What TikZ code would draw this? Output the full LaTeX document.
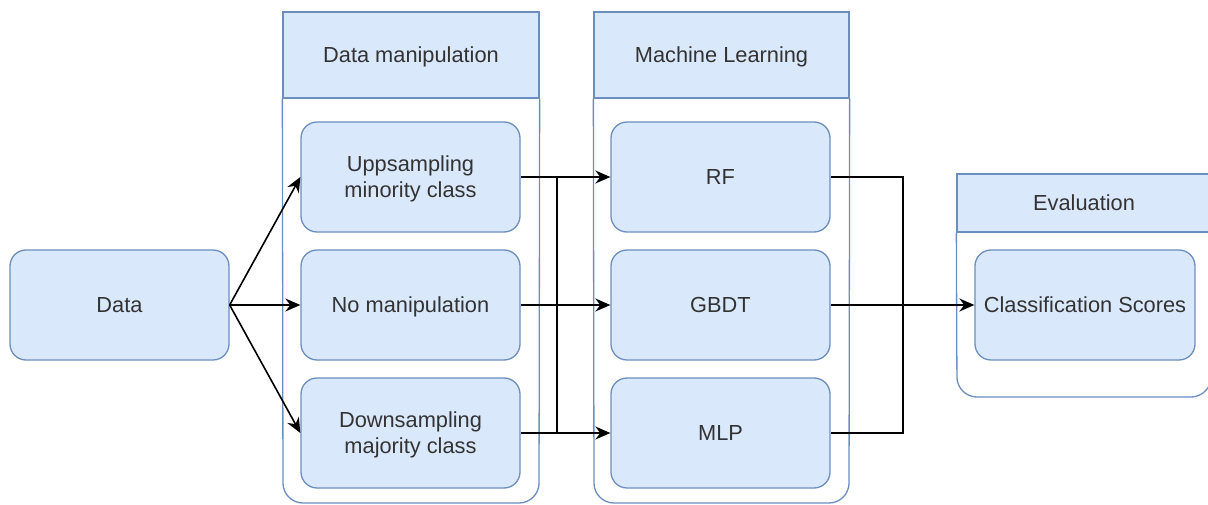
\documentclass[tikz,border=0pt]{standalone}
\usepackage{fontspec}
\setmainfont{Liberation Sans}
\usetikzlibrary{arrows.meta}

\definecolor{boxfill}{HTML}{DAE8FC}
\definecolor{laneblue}{HTML}{6C8EBF}

\tikzset{
  box/.style={draw=laneblue, fill=boxfill, rounded corners=16pt, line width=1.3pt,
    minimum width=219pt, minimum height=110pt, align=center, text=black!80, text depth=0pt},
  lanehead/.style={draw=laneblue, fill=boxfill, line width=1.3pt, text=black!80, text depth=0pt},
  lanebody/.style={draw=laneblue, rounded corners=20pt, line width=1.3pt},
  flow/.style={-{Stealth[length=15pt,width=13pt]}, line width=1.6pt},
  bus/.style={line width=1.6pt},
}

\begin{document}
\begin{tikzpicture}[x=1pt, y=-1pt, font=\fontsize{21.8pt}{26pt}\selectfont]
    \useasboundingbox (0,0) rectangle (1208,505);

    % lanes
    \node[lanehead, minimum width=256pt, minimum height=86pt] (dmh) at (411,55) {Data manipulation};
    \draw[lanebody] (dmh.south west) -- (283,503) -- (539,503) -- (dmh.south east);

    \node[lanehead, minimum width=255pt, minimum height=86pt] (mlh) at (721.5,55) {Machine Learning};
    \draw[lanebody] (mlh.south west) -- (594,503) -- (849,503) -- (mlh.south east);

    \node[lanehead, minimum width=254pt, minimum height=58pt] (evh) at (1084,203) {Evaluation};
    \draw[lanebody] (evh.south west) -- (957,397) -- (1211,397) -- (evh.south east);

    % boxes
    \node[box] (data) at (119.5,305) {Data};

    \node[box] (up) at (410.5,177) {Uppsampling\\minority class};
    \node[box] (nomanip) at (410.5,305) {No manipulation};
    \node[box] (down) at (410.5,433) {Downsampling\\majority class};

    \node[box] (rf) at (720.5,177) {RF};
    \node[box] (gbdt) at (720.5,305) {GBDT};
    \node[box] (mlp) at (720.5,433) {MLP};

    \node[box, minimum width=220pt] (cs) at (1085,305) {Classification Scores};

    % connectors
    \draw[flow] (data.east) -- (up.west);
    \draw[flow] (data.east) -- (nomanip.west);
    \draw[flow] (data.east) -- (down.west);

    \coordinate (lbus) at (557,0);
    \draw[flow] (up.east) -- (rf.west);
    \draw[flow] (nomanip.east) -- (gbdt.west);
    \draw[flow] (down.east) -- (mlp.west);
    \draw[bus] (up.east -| lbus) -- (down.east -| lbus);

    \coordinate (rbus) at (903,0);
    \draw[bus] (rf.east) -- (rf.east -| rbus) -- (mlp.east -| rbus) -- (mlp.east);
    \draw[flow] (gbdt.east) -- (cs.west);
\end{tikzpicture}
\end{document}
